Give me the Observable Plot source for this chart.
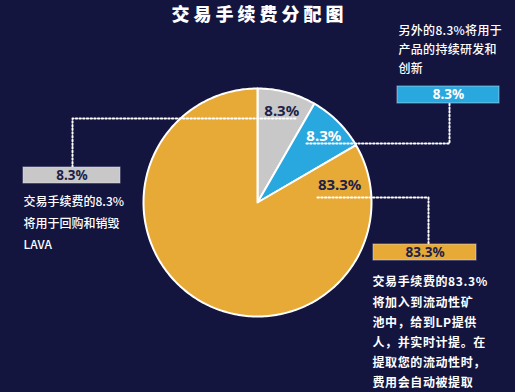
<!DOCTYPE html>
<html>
<head>
<meta charset="utf-8">
<script src="https://cdn.jsdelivr.net/npm/d3@7"></script>
<script src="https://cdn.jsdelivr.net/npm/@observablehq/plot@0.6"></script>
<style>
  html, body { margin: 0; padding: 0; background: #13153f; }
  #wrap { position: relative; width: 515px; height: 392px; overflow: hidden; background: #13153f; font-family: "Noto Sans CJK SC", "Noto Sans", sans-serif; }
  #title { position: absolute; top: 0; left: 0; width: 515px; height: 26px; line-height: 26px; text-align: center; color: #fff; font-size: 18px; font-weight: 900; letter-spacing: 4px; padding-left: 4px; box-sizing: border-box; z-index: 2; }
  #chart { margin-top: 22px; }
  svg { display: block; }
</style>
</head>
<body>
<div id="wrap">
  <div id="chart"></div>
  <div id="title"></div>
</div>
<script>
// ---- data ----
const title = "交易手续费分配图";
const categories = ["回购和销毁LAVA", "持续研发和创新", "流动性矿池"];
const shares = [8.3, 8.3, 83.3];
const shareLabels = ["8.3%", "8.3%", "83.3%"];
const notes = [
  ["交易手续费的8.3%", "将用于回购和销毁", "LAVA"],
  ["另外的8.3%将用于", "产品的持续研发和", "创新"],
  ["交易手续费的83.3%", "将加入到流动性矿", "池中，给到LP提供", "人，并实时计提。在", "提取您的流动性时，", "费用会自动被提取"]
];
const palette = ["#c8c8c8", "#29a8e0", "#e8aa36"];
const boxTextColors = ["#1c1f4a", "#ffffff", "#1c1f4a"];
const sliceTextColors = ["#1c1f4a", "#ffffff", "#1c1f4a"];

// ---- layout ----
const W = 515, H = 392, TOP = 22;
const cx = 257, cy = 202, R = 114;
const labelPlace = [null, null, {angle: 78 * Math.PI / 180, r: 84}];
const labelR = 94;
const boxes = [
  {x1: 23, x2: 120, y1: 167, y2: 183},
  {x1: 397, x2: 499, y1: 86, y2: 103},
  {x1: 373, x2: 476, y1: 244, y2: 260}
];
const noteLayout = [
  {x: 23, y: 202, dy: 21.5, size: 12, weight: 500, spacing: 0},
  {x: 398, y: 31, dy: 19, size: 12, weight: 500, spacing: 0.3},
  {x: 372, y: 282, dy: 20.2, size: 12, weight: 700, spacing: 0.6}
];
const leaders = [
  [[295, 118], [72, 118], [72, 167]],
  [[306, 143], [449, 143], [449, 103]],
  [[317, 197], [428, 197], [428, 244]]
];

document.getElementById("title").textContent = title;

// ---- pie geometry from data ----
const arcs = d3.pie().sort(null)(shares);
const piePts = [];
arcs.forEach((a, i) => {
  piePts.push({name: categories[i], x: cx, y: cy});
  const n = Math.max(2, Math.ceil((a.endAngle - a.startAngle) / (Math.PI / 180)));
  for (let k = 0; k <= n; k++) {
    const t = a.startAngle + (a.endAngle - a.startAngle) * k / n;
    piePts.push({name: categories[i], x: cx + R * Math.sin(t), y: cy - R * Math.cos(t)});
  }
});
const sliceLabels = arcs.map((a, i) => {
  const p = labelPlace[i];
  const ang = p ? p.angle : (a.startAngle + a.endAngle) / 2;
  const r = p ? p.r : labelR;
  return {text: shareLabels[i], x: cx + r * Math.sin(ang), y: cy - r * Math.cos(ang), color: sliceTextColors[i]};
});
const boxData = boxes.map((b, i) => ({...b, name: categories[i], text: shareLabels[i], color: boxTextColors[i]}));
const leaderPts = leaders.flatMap((l, i) => l.map(([x, y]) => ({x, y, g: i})));
const noteData = notes.flatMap((lines, i) => lines.map((t, j) => ({
  text: t, x: noteLayout[i].x, y: noteLayout[i].y + j * noteLayout[i].dy, g: i
})));

const noteMarks = [0, 1, 2].map(g => Plot.text(noteData.filter(d => d.g === g), {
  x: "x", y: "y", text: "text", textAnchor: "start", lineAnchor: "middle",
  fill: "#ffffff", fontSize: noteLayout[g].size, fontWeight: noteLayout[g].weight,
  fontFamily: "Noto Sans CJK SC"
}));

const chart = Plot.plot({
  width: W, height: H - TOP,
  margin: 0,
  style: {background: "#13153f", overflow: "hidden"},
  x: {domain: [0, W], range: [0, W], axis: null},
  y: {domain: [TOP, H], range: [0, H - TOP], axis: null},
  color: {domain: categories, range: palette},
  marks: [
    Plot.line(piePts, {x: "x", y: "y", z: "name", fill: "name", stroke: "#ffffff", strokeWidth: 2, strokeLinejoin: "round", curve: "linear-closed"}),
    Plot.line(leaderPts, {x: "x", y: "y", z: "g", stroke: "#ffffff", strokeWidth: 2, strokeDasharray: "1.5,2.2", curve: "linear"}),
    Plot.text(sliceLabels, {x: "x", y: "y", text: "text", fill: "color", fontSize: 15, fontWeight: "bold", fontFamily: "Noto Sans", lineAnchor: "middle"}),
    Plot.rect(boxData, {x1: "x1", x2: "x2", y1: "y1", y2: "y2", fill: "name", stroke: "#e6e6ee", strokeOpacity: 0.5, strokeWidth: 1}),
    Plot.text(boxData, {x: d => (d.x1 + d.x2) / 2, y: d => (d.y1 + d.y2) / 2, text: "text", fill: "color", fontSize: 13.5, fontWeight: "bold", fontFamily: "Noto Sans", lineAnchor: "middle"}),
    ...noteMarks
  ]
});
// letter-spacing for the note paragraphs
d3.select(chart).selectAll("text").each(function () {
  const t = this.textContent;
  notes.forEach((lines, g) => {
    if (lines.includes(t) && noteLayout[g].spacing) this.style.letterSpacing = noteLayout[g].spacing + "px";
  });
});
document.getElementById("chart").appendChild(chart);
</script>
</body>
</html>
